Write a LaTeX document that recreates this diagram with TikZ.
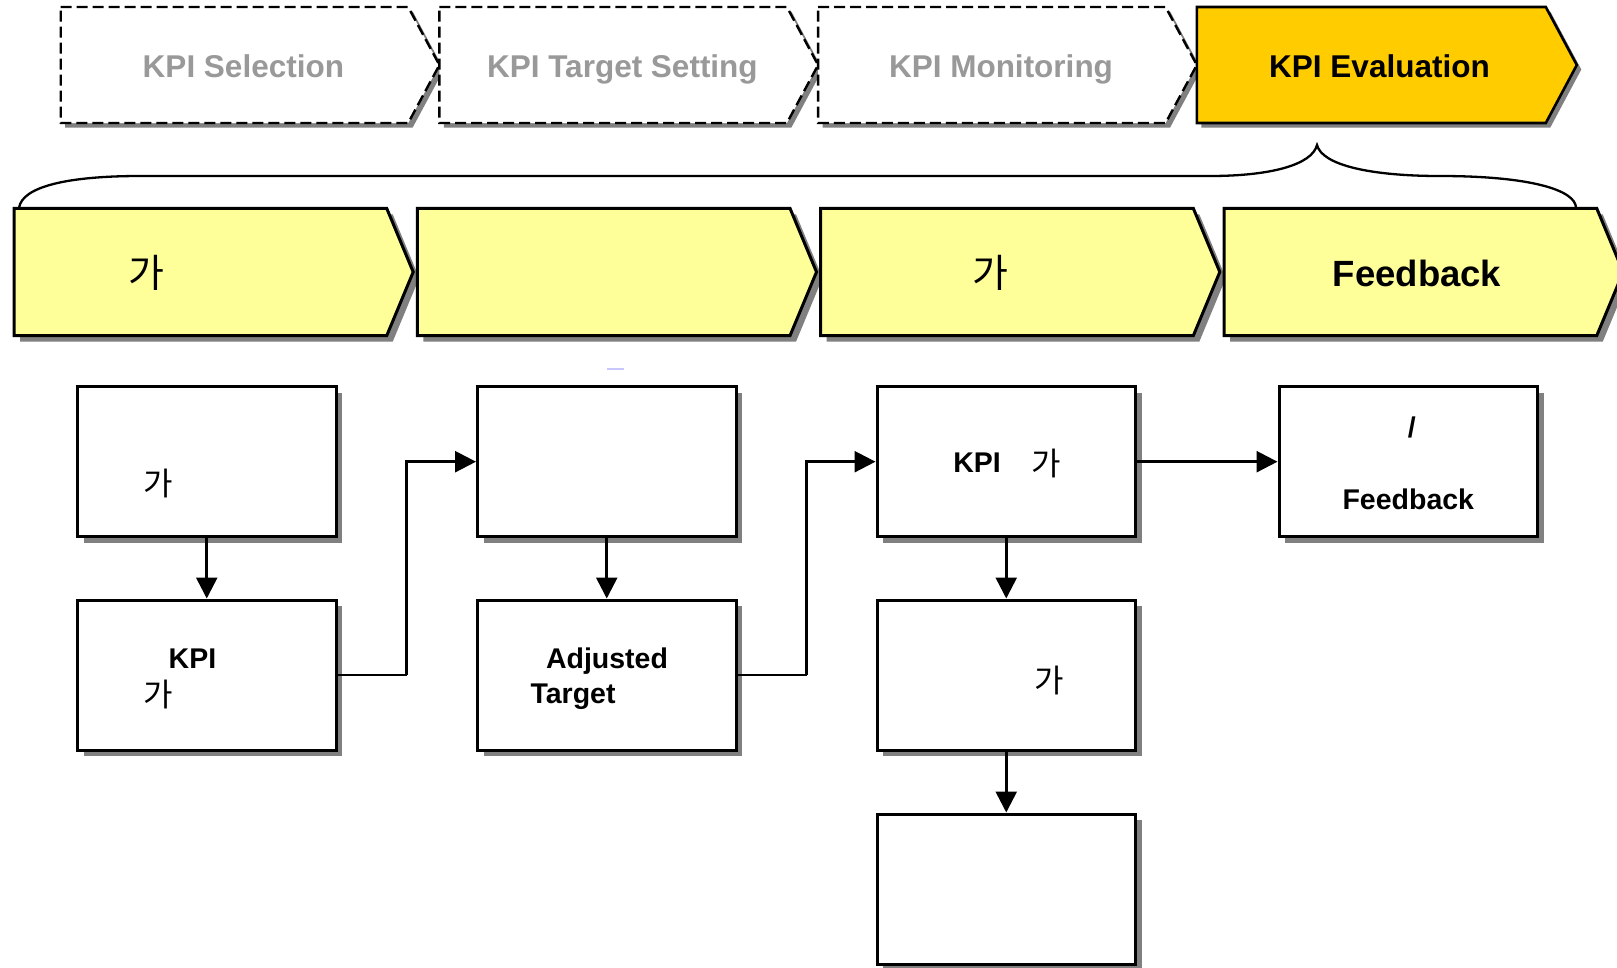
\documentclass[tikz,border=0pt]{standalone}
\usepackage{fontspec}
\setmainfont{Liberation Sans}
\newfontfamily\kr{Noto Sans CJK KR}
\usetikzlibrary{shadows,arrows.meta,calc}

\definecolor{palegold}{HTML}{FFFF99}
\definecolor{gold}{HTML}{FFCC00}
\definecolor{inactive}{HTML}{999999}
\definecolor{shade}{HTML}{808080}
\definecolor{caret}{HTML}{C8C8FF}

\tikzset{
  phase/.style={draw=black, line width=2.4pt, dash pattern=on 11pt off 5pt, fill=white,
    drop shadow={shadow xshift=4.5pt, shadow yshift=-4.5pt, fill=shade, opacity=1}},
  phasenow/.style={draw=black, line width=2.6pt, fill=gold,
    drop shadow={shadow xshift=4.5pt, shadow yshift=-4.5pt, fill=shade, opacity=1}},
  substep/.style={draw=black, line width=3pt, fill=palegold,
    drop shadow={shadow xshift=6pt, shadow yshift=-6pt, fill=shade, opacity=1}},
  box/.style={draw=black, line width=3pt, fill=white, minimum width=258.5pt,
    minimum height=150pt, inner sep=0pt,
    drop shadow={shadow xshift=6pt, shadow yshift=-6pt, fill=shade, opacity=1}},
  phasetxt/.style={font=\fontsize{31.5}{36}\selectfont\bfseries, inner sep=0pt, anchor=base},
  subtxt/.style={font=\fontsize{36.5}{42}\selectfont\bfseries, inner sep=0pt},
  subkr/.style={font=\kr\fontsize{39}{44}\selectfont, inner sep=0pt},
  boxtxt/.style={font=\fontsize{28.5}{34}\selectfont\bfseries, inner sep=0pt},
  boxkr/.style={font=\kr\fontsize{32}{38}\selectfont, inner sep=0pt},
  flow/.style={line width=2.6pt, -{Triangle[length=21pt,width=21pt]}},
  link/.style={line width=2.6pt},
}

% chevron: left x, top y, bottom y, body length, tip depth
\newcommand\chevpath[5]{%
  (#1,#2) -- ({#1+#4},#2) -- ({#1+#4+#5},{(#2+#3)/2}) -- ({#1+#4},#3) -- (#1,#3) -- cycle}

\begin{document}
\begin{tikzpicture}[x=1pt,y=-1pt]
\useasboundingbox (0,0) rectangle (1617,967);

% ---- phase chevrons ----
\path[phase]    \chevpath{60.7}{7}{123}{347.5}{31.2};
\path[phase]    \chevpath{439.4}{7}{123}{347.5}{31.2};
\path[phase]    \chevpath{818.1}{7}{123}{347.5}{31.2};
\path[phasenow] \chevpath{1196.8}{7}{123}{349}{31};

\node[phasetxt, text=inactive] (p1) at (243.4,77.5) {KPI Selection};
\node[phasetxt, text=inactive] (p2) at (622.4,77.5) {KPI Target Setting};
\node[phasetxt, text=inactive] (p3) at (1001,77.5) {KPI Monitoring};
\node[phasetxt] (p4) at (1379.5,77.5) {KPI Evaluation};

% ---- brace under the evaluation phase ----
\draw[line width=2.3pt]
  (19,208) .. controls (22,186) and (70,176) .. (140,176)
  -- (1210,176) .. controls (1270,176) and (1312,165) .. (1317,145)
  .. controls (1322,165) and (1370,176) .. (1440,176)
  .. controls (1530,176) and (1576,190) .. (1576,208);

% ---- sub-step chevrons ----
\path[substep] \chevpath{14}{208.3}{335.7}{372.7}{26.5};
\path[substep] \chevpath{417.3}{208.3}{335.7}{372.7}{26.5};
\path[substep] \chevpath{820.6}{208.3}{335.7}{372.7}{26.5};
\path[substep] \chevpath{1224}{208.3}{335.7}{372.7}{26.5};

\node[subkr] (s1) at (146.7,273) {가};
\node[subkr] (s3) at (990,273) {가};
\node[subtxt] (s4) at (1417,273) {Feedback};

\draw[caret, line width=1.5pt] (606.7,369) -- (624,369);

% ---- process boxes ----
\node[box] (a1) at (206.75,461.7) {};
\node[box] (a2) at (206.75,675) {};
\node[box] (b1) at (606.75,461.7) {};
\node[box] (b2) at (606.75,675) {};
\node[box] (c1) at (1006.25,461.7) {};
\node[box] (c2) at (1006.25,675) {};
\node[box] (c3) at (1006.25,889) {};
\node[box] (d1) at (1408.25,461.7) {};

\node[boxkr] (a1k) at (158,483) {가};
\node[boxtxt] (a2t) at (192.5,658.3) {KPI};
\node[boxkr] (a2k) at (158,694) {가};
\node[boxtxt, anchor=base] (b2t) at (607,668.3) {Adjusted};
\node[boxtxt, anchor=base] (b2u) at (573,703.5) {Target};
\node[boxtxt] (c1t) at (977,463) {KPI};
\node[boxkr] (c1k) at (1046,463) {가};
\node[boxkr] (c2k) at (1049.7,680) {가};
\node[boxtxt, anchor=base] (d1s) at (1411.7,437) {/};
\node[boxtxt] (d1t) at (1408.3,499) {Feedback};

% ---- connectors ----
\draw[flow] (a1.south) -- (a2.north);
\draw[flow] (b1.south) -- (b2.north);
\draw[flow] (c1.south) -- (c2.north);
\draw[flow] (c2.south) -- (c3.north);
\draw[link] (a2.east) -- ($(a2.east)!.5!(a2.east -| b1.west)$) coordinate (ab);
\draw[flow] (ab) |- (b1.west);
\draw[link] (b2.east) -- ($(b2.east)!.5!(b2.east -| c1.west)$) coordinate (bc);
\draw[flow] (bc) |- (c1.west);
\draw[flow] (c1.east) -- (d1.west);
\end{tikzpicture}
\end{document}
